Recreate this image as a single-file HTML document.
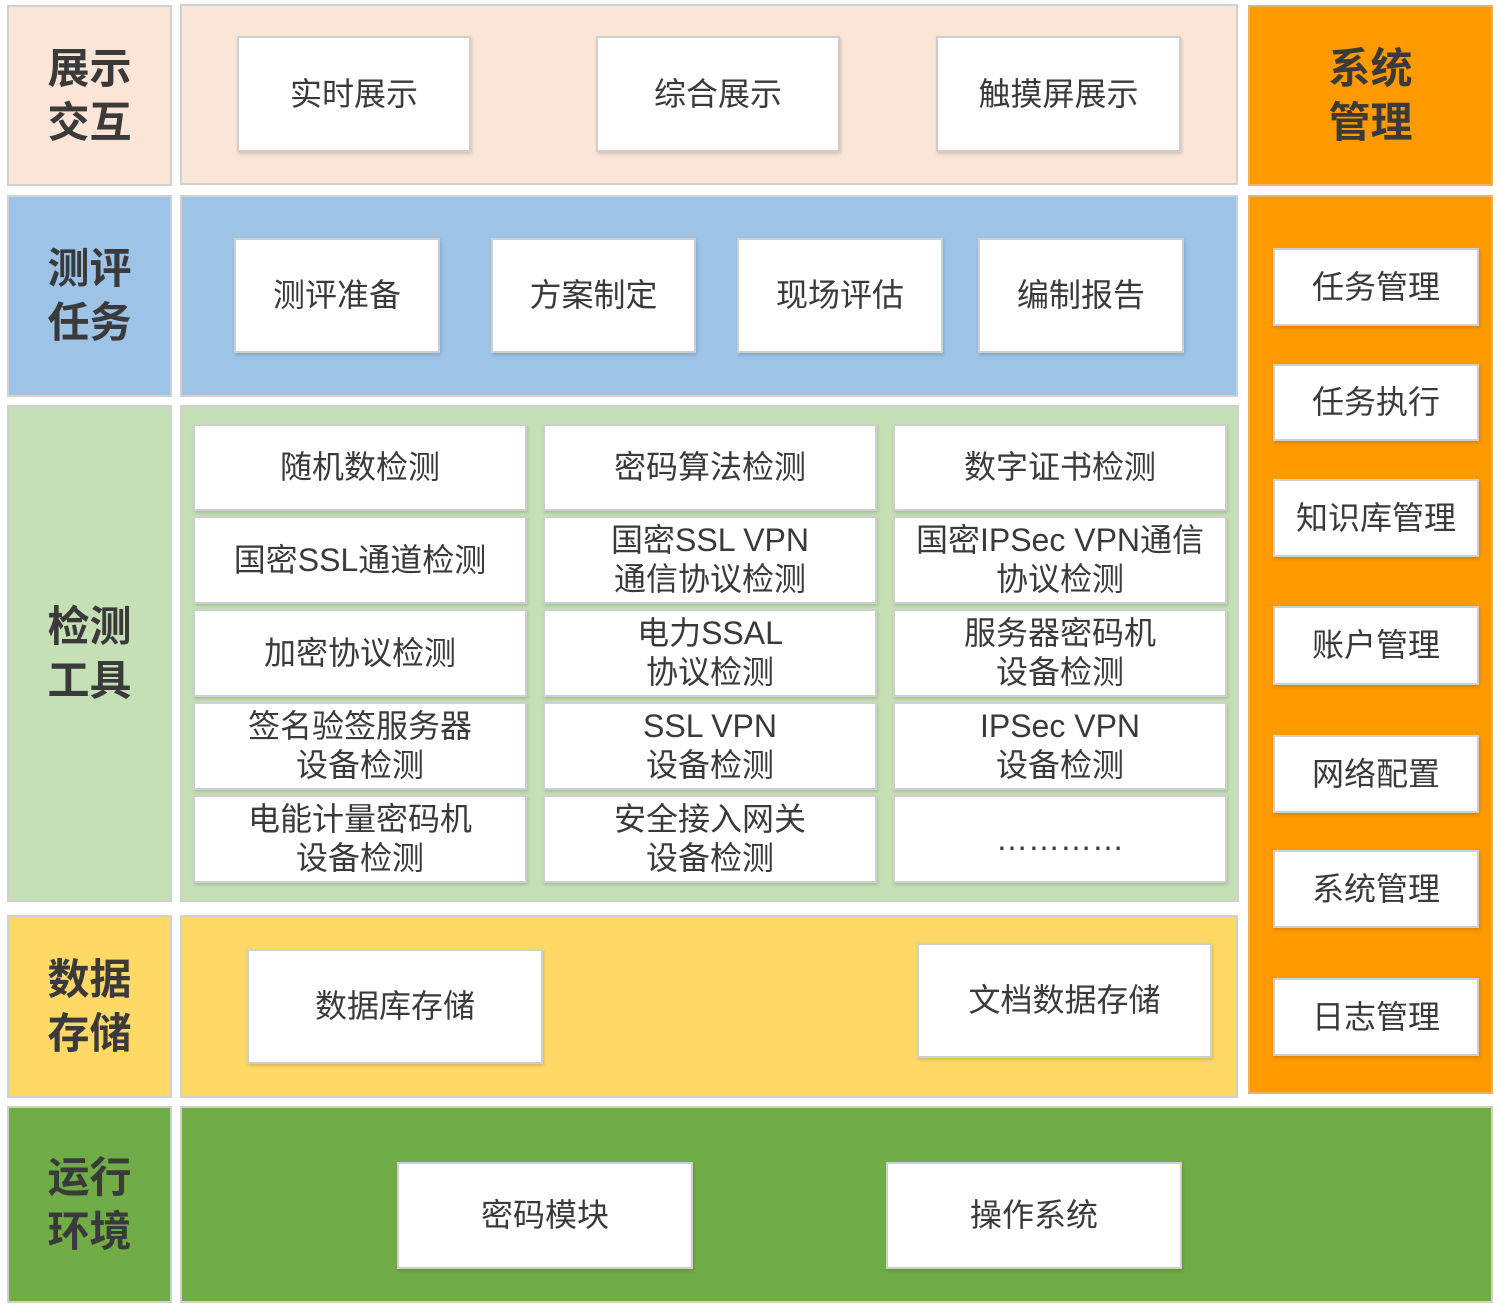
<!DOCTYPE html>
<html><head><meta charset="utf-8"><style>
body{margin:0;width:1500px;height:1312px;background:#fff;position:relative;overflow:hidden;font-family:"Liberation Sans","Noto Sans CJK SC",sans-serif;color:#3a3a3a}
.p{position:absolute;box-sizing:border-box;border:2px solid #d0d0d0}
.b{position:absolute;box-sizing:border-box;background:#fff;border:2px solid #cfcfcf;display:flex;align-items:center;justify-content:center;text-align:center;font-size:32px;line-height:39px;box-shadow:1px 2px 3px rgba(0,0,0,.15);white-space:nowrap}
.h{position:absolute;display:flex;align-items:center;justify-content:center;font-size:42px;font-weight:bold;line-height:54px;text-align:center}
</style></head><body>
<div class="p" style="left:7px;top:5px;width:165px;height:181px;background:#fbe5d6"></div>
<div class="p" style="left:180px;top:4px;width:1058px;height:181px;background:#fbe5d6"></div>
<div class="p" style="left:1248px;top:5px;width:245px;height:181px;background:#ff9900;border-color:#f0b060"></div>
<div class="p" style="left:7px;top:195px;width:165px;height:202px;background:#9dc3e6"></div>
<div class="p" style="left:180px;top:195px;width:1058px;height:202px;background:#9dc3e6"></div>
<div class="p" style="left:1248px;top:195px;width:245px;height:899px;background:#ff9900;border-color:#f0b060"></div>
<div class="p" style="left:7px;top:405px;width:165px;height:497px;background:#c5e0b4"></div>
<div class="p" style="left:180px;top:405px;width:1059px;height:497px;background:#c5e0b4"></div>
<div class="p" style="left:7px;top:915px;width:165px;height:183px;background:#ffd966"></div>
<div class="p" style="left:180px;top:915px;width:1058px;height:183px;background:#ffd966"></div>
<div class="p" style="left:7px;top:1106px;width:165px;height:197px;background:#70ad47"></div>
<div class="p" style="left:180px;top:1106px;width:1313px;height:197px;background:#70ad47"></div>

<div class="h" style="left:7px;top:5px;width:165px;height:181px">展示<br>交互</div>
<div class="h" style="left:1248px;top:5px;width:245px;height:181px">系统<br>管理</div>
<div class="h" style="left:7px;top:195px;width:165px;height:202px">测评<br>任务</div>
<div class="h" style="left:7px;top:405px;width:165px;height:497px">检测<br>工具</div>
<div class="h" style="left:7px;top:915px;width:165px;height:183px">数据<br>存储</div>
<div class="h" style="left:7px;top:1106px;width:165px;height:197px">运行<br>环境</div>

<div class="b" style="left:237px;top:36px;width:234px;height:116px">实时展示</div>
<div class="b" style="left:596px;top:36px;width:244px;height:116px">综合展示</div>
<div class="b" style="left:936px;top:36px;width:245px;height:116px">触摸屏展示</div>

<div class="b" style="left:234px;top:238px;width:206px;height:115px">测评准备</div>
<div class="b" style="left:491px;top:238px;width:205px;height:115px">方案制定</div>
<div class="b" style="left:737px;top:238px;width:206px;height:115px">现场评估</div>
<div class="b" style="left:978px;top:238px;width:206px;height:115px">编制报告</div>

<div class="b" style="left:193px;top:424px;width:334px;height:87px">随机数检测</div>
<div class="b" style="left:543px;top:424px;width:334px;height:87px">密码算法检测</div>
<div class="b" style="left:893px;top:424px;width:334px;height:87px">数字证书检测</div>
<div class="b" style="left:193px;top:516px;width:334px;height:88px">国密SSL通道检测</div>
<div class="b" style="left:543px;top:516px;width:334px;height:88px">国密SSL VPN<br>通信协议检测</div>
<div class="b" style="left:893px;top:516px;width:334px;height:88px">国密IPSec VPN通信<br>协议检测</div>
<div class="b" style="left:193px;top:609px;width:334px;height:88px">加密协议检测</div>
<div class="b" style="left:543px;top:609px;width:334px;height:88px">电力SSAL<br>协议检测</div>
<div class="b" style="left:893px;top:609px;width:334px;height:88px">服务器密码机<br>设备检测</div>
<div class="b" style="left:193px;top:702px;width:334px;height:88px">签名验签服务器<br>设备检测</div>
<div class="b" style="left:543px;top:702px;width:334px;height:88px">SSL VPN<br>设备检测</div>
<div class="b" style="left:893px;top:702px;width:334px;height:88px">IPSec VPN<br>设备检测</div>
<div class="b" style="left:193px;top:795px;width:334px;height:88px">电能计量密码机<br>设备检测</div>
<div class="b" style="left:543px;top:795px;width:334px;height:88px">安全接入网关<br>设备检测</div>
<div class="b" style="left:893px;top:795px;width:334px;height:88px">…………</div>

<div class="b" style="left:247px;top:949px;width:296px;height:115px">数据库存储</div>
<div class="b" style="left:917px;top:943px;width:295px;height:115px">文档数据存储</div>

<div class="b" style="left:397px;top:1162px;width:296px;height:107px">密码模块</div>
<div class="b" style="left:886px;top:1162px;width:296px;height:107px">操作系统</div>

<div class="b" style="left:1273px;top:248px;width:206px;height:78px">任务管理</div>
<div class="b" style="left:1273px;top:364px;width:206px;height:77px">任务执行</div>
<div class="b" style="left:1273px;top:479px;width:206px;height:78px">知识库管理</div>
<div class="b" style="left:1273px;top:606px;width:206px;height:79px">账户管理</div>
<div class="b" style="left:1273px;top:735px;width:206px;height:78px">网络配置</div>
<div class="b" style="left:1273px;top:850px;width:206px;height:78px">系统管理</div>
<div class="b" style="left:1273px;top:978px;width:206px;height:78px">日志管理</div>
</body></html>
